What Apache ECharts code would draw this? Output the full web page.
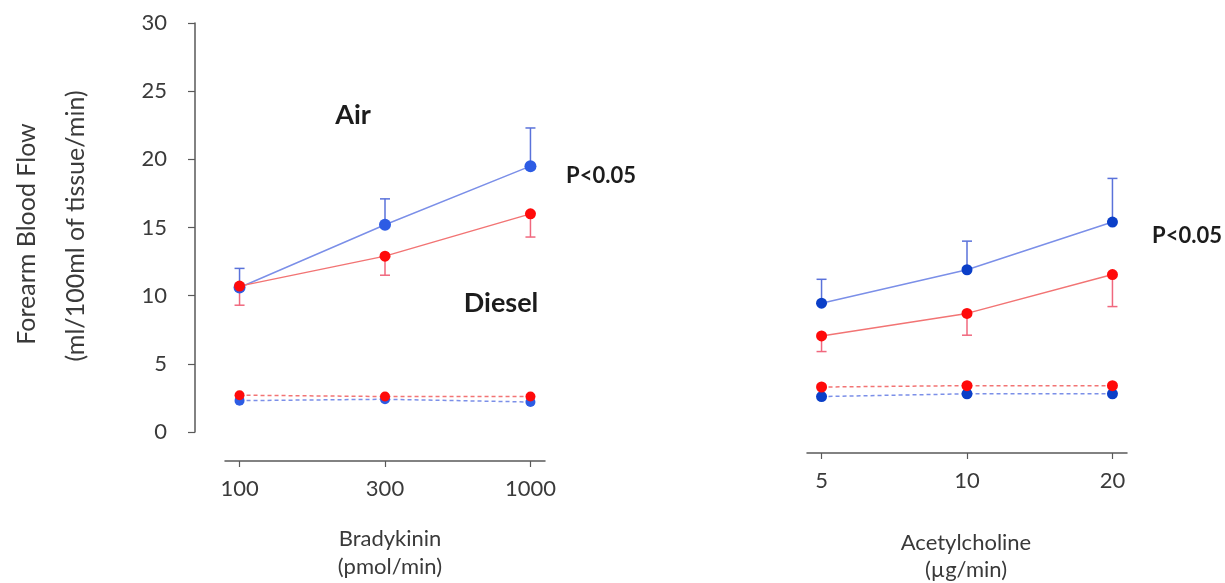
<!DOCTYPE html>
<html>
<head>
<meta charset="utf-8">
<script src="https://cdn.jsdelivr.net/npm/echarts@6/dist/echarts.min.js"></script>
<style>
html,body{margin:0;padding:0;background:#fff;}
#c{width:1225px;height:583px;}
</style>
</head>
<body>
<div id="c"></div>
<script>
// ---- data ----
const bkLabels = ['100', '300', '1000'];
const achLabels = ['5', '10', '20'];

// Bradykinin (infused arm)
const bkAir = [10.6, 15.2, 19.5];
const bkAirUpper = [12.0, 17.1, 22.3];
const bkDiesel = [10.7, 12.9, 16.0];
const bkDieselLower = [9.3, 11.5, 14.3];
// Bradykinin (non-infused arm, dashed)
const bkAirCtrl = [2.3, 2.4, 2.2];
const bkDieselCtrl = [2.7, 2.6, 2.6];

// Acetylcholine (infused arm)
const achAir = [9.45, 11.9, 15.4];
const achAirUpper = [11.2, 14.0, 18.6];
const achDiesel = [7.05, 8.7, 11.55];
const achDieselLower = [5.9, 7.1, 9.2];
// Acetylcholine (non-infused arm, dashed)
const achAirCtrl = [2.6, 2.8, 2.8];
const achDieselCtrl = [3.3, 3.4, 3.4];

// ---- styles ----
const FONT = 'Lato';
const BLUE = '#2d5ce4', BLUE_DARK = '#0b3fc8', BLUE_LINE = '#7b8fe8', BLUE_ERR = '#5a72da';
const RED = '#ff0a0a', RED_LINE = '#f27474', RED_ERR = '#f0687e';
const AXIS = '#595959', TXT = '#3a3a3a', BOLD = '#1c1c1c';

const pts = arr => arr.map((v, i) => [i, v]);
const errPts = (mean, bound) => mean.map((v, i) => [i, v, bound[i]]);

function errRender(color) {
  return function (params, api) {
    const x = api.value(0);
    const p0 = api.coord([x, api.value(1)]);
    const p1 = api.coord([x, api.value(2)]);
    const w = 5;
    return {
      type: 'group',
      children: [
        {type: 'line', shape: {x1: p0[0], y1: p0[1], x2: p1[0], y2: p1[1]}, style: {stroke: color, lineWidth: 1.5}},
        {type: 'line', shape: {x1: p1[0] - w, y1: p1[1], x2: p1[0] + w, y2: p1[1]}, style: {stroke: color, lineWidth: 1.5}}
      ]
    };
  };
}

function xAxisFor(gridIndex, labels, offset) {
  return {
    type: 'value', gridIndex, min: -0.1, max: 2.1, offset,
    axisLine: {show: true, onZero: false, lineStyle: {color: AXIS, width: 1.5}},
    axisTick: {show: true, customValues: [0, 1, 2], length: 6, inside: false, lineStyle: {color: AXIS, width: 1.2}},
    axisLabel: {show: true, customValues: [0, 1, 2], formatter: v => labels[Math.round(v)] || '', color: TXT, fontSize: 22, fontFamily: FONT, margin: 17},
    splitLine: {show: false}
  };
}

function lineSeries(gi, data, color, lineColor, dashed, size, z) {
  return {
    type: 'line', xAxisIndex: gi, yAxisIndex: gi, data: pts(data),
    symbol: 'circle', symbolSize: size, z: z,
    itemStyle: {color: color},
    lineStyle: {color: lineColor, width: 1.5, type: dashed ? [4, 3] : 'solid'},
    animation: false
  };
}

const option = {
  backgroundColor: '#fff',
  animation: false,
  grid: [
    {left: 225, width: 320, top: 23, height: 409},
    {left: 807, width: 320, top: 23, height: 409}
  ],
  xAxis: [
    xAxisFor(0, bkLabels, 29),
    xAxisFor(1, achLabels, 21)
  ],
  yAxis: [
    {
      type: 'value', gridIndex: 0, min: 0, max: 30, interval: 5, offset: 30,
      axisLine: {show: true, onZero: false, lineStyle: {color: AXIS, width: 1.5}},
      axisTick: {show: true, length: 7, lineStyle: {color: AXIS, width: 1.2}},
      axisLabel: {color: TXT, fontSize: 22, fontFamily: FONT, margin: 28},
      splitLine: {show: false}
    },
    {type: 'value', gridIndex: 1, min: 0, max: 30, show: false, splitLine: {show: false}}
  ],
  series: [
    // left panel
    {type: 'custom', xAxisIndex: 0, yAxisIndex: 0, data: errPts(bkAir, bkAirUpper), renderItem: errRender(BLUE_ERR), z: 2},
    {type: 'custom', xAxisIndex: 0, yAxisIndex: 0, data: errPts(bkDiesel, bkDieselLower), renderItem: errRender(RED_ERR), z: 2},
    lineSeries(0, bkAirCtrl, BLUE, BLUE_LINE, true, 10, 3),
    lineSeries(0, bkDieselCtrl, RED, RED_LINE, true, 10, 4),
    lineSeries(0, bkAir, BLUE, BLUE_LINE, false, 12, 5),
    lineSeries(0, bkDiesel, RED, RED_LINE, false, 11, 6),
    // right panel
    {type: 'custom', xAxisIndex: 1, yAxisIndex: 1, data: errPts(achAir, achAirUpper), renderItem: errRender(BLUE_ERR), z: 2},
    {type: 'custom', xAxisIndex: 1, yAxisIndex: 1, data: errPts(achDiesel, achDieselLower), renderItem: errRender(RED_ERR), z: 2},
    lineSeries(1, achAirCtrl, BLUE_DARK, BLUE_LINE, true, 11, 3),
    lineSeries(1, achDieselCtrl, RED, RED_LINE, true, 11, 4),
    lineSeries(1, achAir, BLUE_DARK, BLUE_LINE, false, 11, 5),
    lineSeries(1, achDiesel, RED, RED_LINE, false, 11, 6)
  ],
  graphic: [
    {type: 'text', x: 27, y: 234, rotation: Math.PI / 2, style: {text: 'Forearm Blood Flow', font: '25px ' + FONT, fill: TXT, align: 'center', verticalAlign: 'middle'}},
    {type: 'text', x: 76, y: 226, rotation: Math.PI / 2, style: {text: '(ml/100ml of tissue/min)', font: '25px ' + FONT, fill: TXT, align: 'center', verticalAlign: 'middle'}},
    {type: 'text', x: 353, y: 115, style: {text: 'Air', font: 'bold 27px ' + FONT, fill: BOLD, align: 'center', verticalAlign: 'middle'}},
    {type: 'text', x: 501, y: 303, style: {text: 'Diesel', font: 'bold 27px ' + FONT, fill: BOLD, align: 'center', verticalAlign: 'middle'}},
    {type: 'text', x: 601, y: 176, style: {text: 'P<0.05', font: 'bold 22px ' + FONT, fill: BOLD, align: 'center', verticalAlign: 'middle'}},
    {type: 'text', x: 1187, y: 236, style: {text: 'P<0.05', font: 'bold 22px ' + FONT, fill: BOLD, align: 'center', verticalAlign: 'middle'}},
    {type: 'text', x: 390, y: 539, style: {text: 'Bradykinin', font: '22px ' + FONT, fill: TXT, align: 'center', verticalAlign: 'middle'}},
    {type: 'text', x: 390, y: 567, style: {text: '(pmol/min)', font: '22px ' + FONT, fill: TXT, align: 'center', verticalAlign: 'middle'}},
    {type: 'text', x: 966, y: 543, style: {text: 'Acetylcholine', font: '22px ' + FONT, fill: TXT, align: 'center', verticalAlign: 'middle'}},
    {type: 'text', x: 966, y: 570, style: {text: '(µg/min)', font: '22px ' + FONT, fill: TXT, align: 'center', verticalAlign: 'middle'}}
  ]
};

const chart = echarts.init(document.getElementById('c'), null, {renderer: 'canvas'});
chart.setOption(option);
</script>
</body>
</html>
